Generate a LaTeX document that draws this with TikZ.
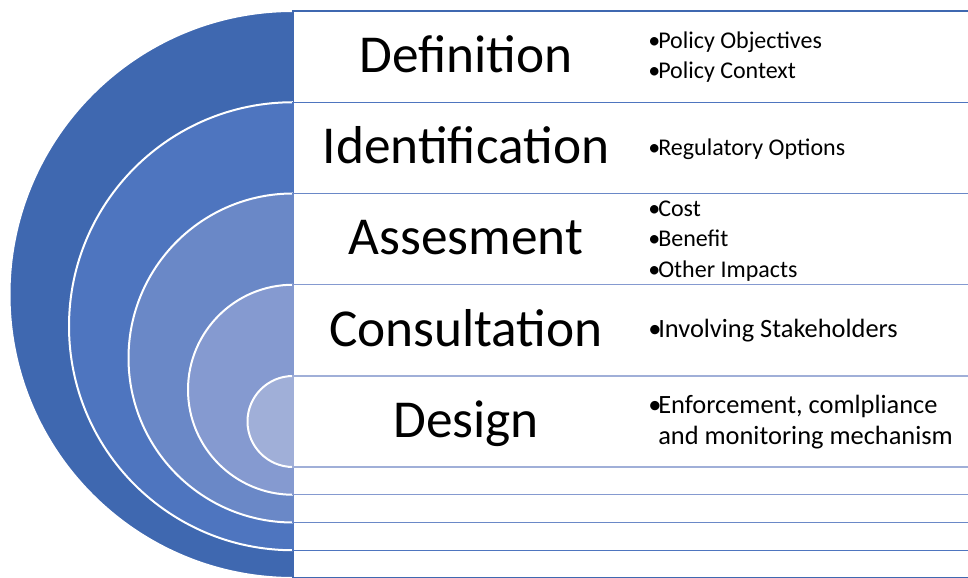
\documentclass[tikz,border=0pt]{standalone}
\usepackage{fontspec}
\setmainfont{Carlito}
\usepackage{xcolor}
\definecolor{ring1}{HTML}{3F68B0}
\definecolor{ring2}{HTML}{4E75BF}
\definecolor{ring3}{HTML}{6A88C7}
\definecolor{ring4}{HTML}{859AD0}
\definecolor{ring5}{HTML}{A0AFD8}
\newcommand{\bul}{\makebox[7.5pt][l]{\textbullet}}

\begin{document}
\begin{tikzpicture}[x=0.75pt,y=0.75pt,
  stage/.style={anchor=base,font=\fontsize{40}{48}\selectfont},
  item/.style={anchor=base west,inner sep=0pt,font=\fontsize{18}{22}\selectfont},
  wideitem/.style={item,font=\fontsize{19.8}{24}\selectfont},
  band/.style={draw=#1,fill=white,line width=1pt}]

\clip (0,0) rectangle (968,578);

% Half rings and their boxes, outer first
\foreach \i/\t/\b in {1/11/578, 2/102.25/550.25, 3/193.5/522.5, 4/284.75/494.75, 5/376/467}{
  \pgfmathsetmacro\r{(\b-\t)/2}
  \fill[ring\i] (293,578-\t) arc[start angle=90,end angle=270,radius=\r] -- cycle;
  \draw[white,line width=1.5pt] (293,578-\t) arc[start angle=90,end angle=270,radius=\r];
  \draw[band=ring\i] (293,578-\t) rectangle (985,578-\b);
}

% Stage names
\node[stage] (def) at (466,505.5) {Definition};
\node[stage] (ident) at (466,414.2) {Identification};
\node[stage] (assess) at (466,323) {Assesment};
\node[stage] (consult) at (466,231.7) {Consultation};
\node[stage] (design) at (466,140.6) {Design};

% Bullet points
\node[item] (obj) at (648,529.6) {\bul Policy Objectives};
\node[item] (ctx) at (648,499.1) {\bul Policy Context};
\node[item] (opts) at (648,422.6) {\bul Regulatory Options};
\node[item] (cost) at (648,361.9) {\bul Cost};
\node[item] (benefit) at (648,331.4) {\bul Benefit};
\node[item] (impacts) at (648,300.9) {\bul Other Impacts};
\node[wideitem] (stake) at (648,240.8) {\bul Involving Stakeholders};
\node[wideitem] (enforce) at (648,164.2) {\bul Enforcement, comlpliance};
\node[wideitem] (monitor) at (658,133.7) {and monitoring mechanism};

\end{tikzpicture}
\end{document}
